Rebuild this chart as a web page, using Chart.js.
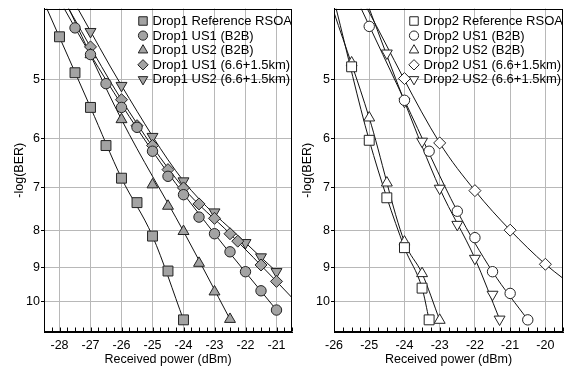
<!DOCTYPE html>
<html>
<head>
<meta charset="utf-8">
<script src="https://cdn.jsdelivr.net/npm/chart.js@4/dist/chart.umd.min.js"></script>
<style>
  html, body { margin: 0; padding: 0; background: #fff; overflow: hidden; }
  body { width: 569px; height: 369px; position: relative; }
  #left { position: absolute; left: 0; top: 0; }
  #right { position: absolute; left: 290px; top: 0; }
</style>
</head>
<body>
<canvas id="left" width="300" height="369"></canvas>
<canvas id="right" width="281" height="369"></canvas>
<script>
// Drop1 panel (received power in dBm, -log(BER))
const d1RefX = [-28, -27.5, -27, -26.5, -26, -25.5, -25, -24.5, -24];
const d1RefY = [4.37, 4.89, 5.45, 6.14, 6.80, 7.34, 8.15, 9.09, 10.59];
const d1Us1X = [-27.5, -27, -26.5, -26, -25.5, -25, -24.5, -24, -23.5, -23, -22.5, -22, -21.5, -21];
const d1Us1Y = [4.25, 4.62, 5.06, 5.45, 5.80, 6.25, 6.76, 7.16, 7.68, 8.09, 8.56, 9.11, 9.67, 10.27];
const d1Us2X = [-27, -26, -25, -24.5, -24, -23.5, -23, -22.5];
const d1Us2Y = [4.62, 5.66, 6.94, 7.42, 8.03, 8.87, 9.70, 10.57];
const d1Us1fX = [-27, -26, -25.5, -25, -24.5, -24, -23.5, -23, -22.5, -22.25, -21.5, -21];
const d1Us1fY = [4.51, 5.32, 5.77, 6.14, 6.62, 7.01, 7.37, 7.71, 8.09, 8.28, 8.92, 9.39];
const d1Us2fX = [-27, -26, -25, -24, -23, -22, -21.5, -21];
const d1Us2fY = [4.30, 5.09, 5.97, 6.86, 7.56, 8.32, 8.70, 9.11];

// fitted curves (they run past the markers to the frame)
const d1RefFitX = [-28.41, -27, -26, -25, -24];
const d1RefFitY = [4.0, 5.45, 6.80, 8.15, 10.59];
const d1Us1FitX = [-27.85, -27, -25, -23, -21];
const d1Us1FitY = [4.0, 4.62, 6.25, 8.09, 10.27];
const d1Us2FitX = [-27.70, -26, -24, -22.5];
const d1Us2FitY = [4.0, 5.66, 8.03, 10.57];
const d1Us1fFitX = [-27.71, -26, -24, -22.5, -21, -20.5];
const d1Us1fFitY = [4.0, 5.32, 7.01, 8.09, 9.39, 9.88];
const d1Us2fFitX = [-27.41, -26, -24, -22, -21];
const d1Us2fFitY = [4.0, 5.09, 6.86, 8.32, 9.11];

// Drop2 panel
const d2RefX = [-25.5, -25, -24.5, -24, -23.5, -23.3];
const d2RefY = [4.80, 6.04, 7.23, 8.45, 9.59, 10.59];
const d2Us1X = [-25, -24, -23.3, -22.5, -22, -21.5, -21, -20.5];
const d2Us1Y = [4.23, 5.33, 6.25, 7.54, 8.19, 9.11, 9.75, 10.59];
const d2Us2X = [-25.5, -25, -24.5, -24, -23.5, -23];
const d2Us2Y = [4.74, 5.63, 6.90, 8.30, 9.16, 10.6];
const d2Us1fX = [-24, -23, -22, -21, -20];
const d2Us1fY = [4.98, 6.09, 7.07, 8.0, 8.90];
const d2Us2fX = [-24.5, -24, -23.5, -23, -22.5, -22, -21.5, -21.3];
const d2Us2fY = [4.60, 5.35, 6.06, 7.02, 7.86, 8.74, 9.78, 10.57];

const d2RefFitX = [-25.94, -25, -24, -23.5, -23.3];
const d2RefFitY = [4.0, 6.04, 8.45, 9.59, 10.59];
const d2Us1FitX = [-25.23, -24, -22.5, -21.5, -20.5];
const d2Us1FitY = [4.0, 5.33, 7.54, 9.11, 10.59];
const d2Us2FitX = [-26.0, -25, -24, -23.5, -23];
const d2Us2FitY = [4.05, 5.63, 8.30, 9.16, 10.6];
const d2Us1fFitX = [-25.06, -23, -22, -21, -20, -19.5];
const d2Us1fFitY = [4.0, 6.09, 7.07, 8.0, 8.90, 9.3];
const d2Us2fFitX = [-25.0, -24, -23, -22, -21.3];
const d2Us2fFitY = [4.0, 5.35, 7.02, 8.74, 10.57];

const yTicks = [5, 6, 7, 8, 9, 10];
const d1Ticks = [-28, -27, -26, -25, -24, -23, -22, -21];
const d2Ticks = [-26, -25, -24, -23, -22, -21, -20];

const FONT = "'Liberation Sans', Arial, Helvetica, sans-serif";
Chart.defaults.font.family = FONT;
Chart.defaults.color = '#000';

function pts(xs, ys) {
    return xs.map((x, i) => ({ x: x, y: ys[i] }));
}

function markers(label, xs, ys, style, rot, radius, legendRadius, fill) {
    return {
        type: 'scatter',
        label: label,
        data: pts(xs, ys),
        pointStyle: style,
        pointRotation: rot,
        pointRadius: radius,
        legendRadius: legendRadius,
        backgroundColor: fill,
        borderColor: '#222',
        borderWidth: 1,
        showLine: false,
        order: 0
    };
}

function fit(xs, ys) {
    return {
        type: 'line',
        data: pts(xs, ys),
        borderColor: '#111',
        borderWidth: 1,
        pointRadius: 0,
        cubicInterpolationMode: 'monotone',
        fill: false,
        order: 1
    };
}

// frame + inward minor ticks on the power axis
const framePlugin = {
    id: 'frame',
    afterDraw(chart) {
        const { ctx, chartArea } = chart;
        const xs = chart.scales.x;
        ctx.save();
        ctx.strokeStyle = '#000';
        ctx.lineWidth = 1;
        const l = Math.round(chartArea.left) + 0.5, t = Math.round(chartArea.top) + 0.5;
        const r = Math.round(chartArea.right) - 0.5, b = Math.round(chartArea.bottom) - 0.5;
        ctx.strokeRect(l, t, r - l, b - t);
        ctx.beginPath();
        for (let v = Math.ceil(xs.min * 4) / 4; v <= xs.max; v += 0.25) {
            const px = Math.round(xs.getPixelForValue(v)) + 0.5;
            ctx.moveTo(px, b);
            ctx.lineTo(px, b - 4);
        }
        ctx.stroke();
        ctx.restore();
    }
};

// legend drawn inside the plot, upper right
const legendPlugin = {
    id: 'insideLegend',
    afterDraw(chart) {
        const { ctx, chartArea } = chart;
        const x0 = chartArea.right - 149;
        let y = chartArea.top + 12.5;
        ctx.save();
        ctx.font = '13px ' + FONT;
        ctx.textBaseline = 'middle';
        chart.data.datasets.forEach(ds => {
            if (!ds.label) return;
            ctx.fillStyle = ds.backgroundColor;
            ctx.strokeStyle = ds.borderColor;
            ctx.lineWidth = 1;
            Chart.helpers.drawPoint(ctx, {
                pointStyle: ds.pointStyle,
                rotation: ds.pointRotation,
                radius: ds.legendRadius,
                borderWidth: 1
            }, x0, y);
            ctx.fillStyle = '#000';
            ctx.fillText(ds.label, x0 + 9.5, y + 0.5);
            y += 14.6;
        });
        ctx.restore();
    }
};

function makeChart(id, datasets, xMin, xMax, xTicks, yTitlePad) {
    return new Chart(document.getElementById(id), {
        type: 'scatter',
        data: { datasets: datasets },
        plugins: [framePlugin, legendPlugin],
        options: {
            responsive: false,
            animation: false,
            events: [],
            layout: { padding: { top: 8, right: 0, bottom: 0, left: 0 } },
            plugins: { legend: { display: false }, tooltip: { enabled: false } },
            scales: {
                x: {
                    type: 'linear',
                    min: xMin,
                    max: xMax,
                    afterBuildTicks: s => { s.ticks = xTicks.map(v => ({ value: v })); },
                    afterFit: s => { s.height = 37; },
                    grid: { color: '#b8b8b8', drawTicks: false },
                    border: { color: '#000', width: 1 },
                    ticks: { padding: 6, font: { size: 12.5 }, autoSkip: false, maxRotation: 0, callback: v => String(v) },
                    title: { display: true, text: 'Received power (dBm)', font: { size: 12.5 }, padding: { top: 0, bottom: 1.5 } }
                },
                y: {
                    type: 'logarithmic',
                    reverse: true,
                    min: 4,
                    max: 11,
                    afterBuildTicks: s => { s.ticks = yTicks.map(v => ({ value: v })); },
                    afterFit: s => { s.width = 44; },
                    grid: { color: '#b8b8b8', tickColor: '#000', tickLength: 3, drawTicks: true },
                    border: { color: '#000', width: 1 },
                    ticks: { padding: 1, font: { size: 12.5 }, autoSkip: false, callback: v => String(v) },
                    title: { display: true, text: '-log(BER)', font: { size: 12.5 }, padding: { top: yTitlePad, bottom: 0 } }
                }
            }
        }
    });
}

const gray = '#a3a3a3';
makeChart('left', [
    markers('Drop1 Reference RSOA', d1RefX, d1RefY, 'rect', 0, 7, 6, gray),
    markers('Drop1 US1 (B2B)', d1Us1X, d1Us1Y, 'circle', 0, 5.2, 4.6, gray),
    markers('Drop1 US2 (B2B)', d1Us2X, d1Us2Y, 'triangle', 0, 6.3, 5.5, gray),
    markers('Drop1 US1 (6.6+1.5km)', d1Us1fX, d1Us1fY, 'rectRot', 0, 6, 5.2, gray),
    markers('Drop1 US2 (6.6+1.5km)', d1Us2fX, d1Us2fY, 'triangle', 180, 6.3, 5.5, gray),
    fit(d1RefFitX, d1RefFitY),
    fit(d1Us1FitX, d1Us1FitY),
    fit(d1Us2FitX, d1Us2FitY),
    fit(d1Us1fFitX, d1Us1fFitY),
    fit(d1Us2fFitX, d1Us2fFitY)
], -28.5, -20.5, d1Ticks, 12.5);

makeChart('right', [
    markers('Drop2 Reference RSOA', d2RefX, d2RefY, 'rect', 0, 7, 6, '#fff'),
    markers('Drop2 US1 (B2B)', d2Us1X, d2Us1Y, 'circle', 0, 5.2, 4.6, '#fff'),
    markers('Drop2 US2 (B2B)', d2Us2X, d2Us2Y, 'triangle', 0, 6.3, 5.5, '#fff'),
    markers('Drop2 US1 (6.6+1.5km)', d2Us1fX, d2Us1fY, 'rectRot', 0, 6, 5.2, '#fff'),
    markers('Drop2 US2 (6.6+1.5km)', d2Us2fX, d2Us2fY, 'triangle', 180, 6.3, 5.5, '#fff'),
    fit(d2RefFitX, d2RefFitY),
    fit(d2Us1FitX, d2Us1FitY),
    fit(d2Us2FitX, d2Us2FitY),
    fit(d2Us1fFitX, d2Us1fFitY),
    fit(d2Us2fFitX, d2Us2fFitY)
], -26, -19.5, d2Ticks, 10.5);
</script>
</body>
</html>
